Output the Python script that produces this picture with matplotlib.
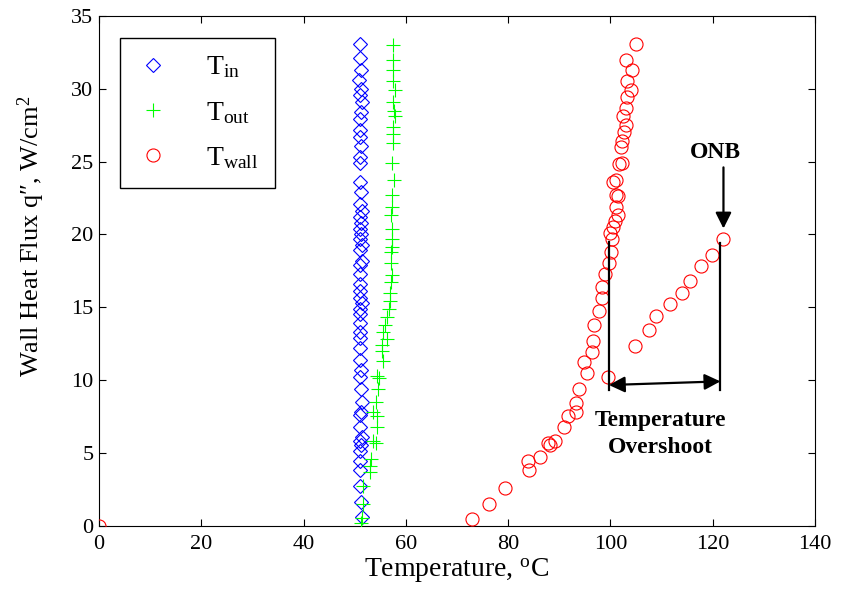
import matplotlib
matplotlib.use("Agg")
import matplotlib.pyplot as plt


# --------------------------------------------------------
# Data
# --------------------------------------------------------

# inlet temperature, deg C / heat flux, W/cm^2
t_in = [
    51.0, 51.0, 51.2, 50.8, 51.2, 51.0, 51.4, 51.2, 51.0, 51.0,
    51.0, 51.2, 51.0, 51.0, 51.0, 51.2, 51.0, 51.4, 51.0, 51.2,
    51.0, 51.2, 51.0, 51.4, 51.0, 51.4, 51.0, 51.0, 51.0, 51.0,
    51.0, 51.4, 51.0, 51.0, 51.0, 51.0, 51.0, 51.0, 51.0, 51.2,
    51.0, 51.2, 51.4, 51.2, 51.0, 51.0, 51.4, 51.0, 51.2, 51.0,
    51.0, 51.0, 51.0, 51.2, 51.4,
]
q_in = [
    33.1, 32.1, 31.3, 30.6, 30.0, 29.6, 29.1, 28.4, 27.9, 27.2,
    26.7, 26.1, 25.3, 24.9, 23.6, 22.9, 22.1, 21.6, 21.2, 20.8,
    20.4, 20.0, 19.7, 19.3, 18.9, 18.2, 17.9, 17.3, 16.6, 16.1,
    15.6, 15.3, 14.9, 14.5, 13.9, 13.3, 12.9, 12.2, 11.4, 10.7,
    10.2, 9.4, 8.5, 7.8, 7.6, 6.8, 6.1, 5.8, 5.5, 5.1,
    4.4, 3.8, 2.7, 1.6, 0.6,
]

# outlet temperature
t_out = [
    57.4, 57.4, 57.4, 57.4, 57.9, 57.5, 57.7, 57.9, 57.4, 57.4,
    57.4, 57.2, 57.7, 57.2, 57.2, 57.1, 57.2, 57.2, 57.3, 57.1,
    57.1, 57.2, 57.0, 56.9, 56.9, 56.8, 56.3, 55.9, 55.6, 56.4,
    55.3, 55.3, 55.6, 54.4, 54.8, 54.6, 54.2, 53.6, 54.4, 54.4,
    53.6, 54.2, 53.1, 53.0, 53.0, 51.7, 51.6, 51.4, 51.2,
]
q_out = [
    33.0, 32.0, 31.3, 30.5, 29.9, 29.1, 28.5, 28.1, 27.4, 26.9,
    26.3, 24.9, 23.7, 22.7, 21.9, 21.3, 20.4, 19.7, 19.1, 18.8,
    18.0, 17.2, 16.7, 16.0, 15.4, 14.9, 14.3, 13.8, 13.3, 12.8,
    12.4, 12.0, 11.3, 10.3, 10.1, 9.4, 8.5, 7.8, 7.5, 6.8,
    5.8, 5.7, 4.6, 4.1, 3.7, 2.7, 1.5, 0.5, 0.15,
]

# wall temperature
t_wall = [
    0.0, 73.0, 76.3, 79.4, 84.1, 83.9, 86.2, 88.1, 87.7, 89.1,
    90.9, 91.7, 93.2, 93.2, 93.8, 99.5, 95.4, 94.8, 96.3, 104.9,
    96.5, 107.5, 96.8, 109.0, 97.7, 111.6, 98.3, 113.9, 98.3, 115.5,
    98.9, 117.8, 99.8, 119.8, 100.2, 100.4, 122.1, 100.0, 100.6, 100.8,
    101.5, 101.1, 101.4, 101.0, 100.6, 101.0, 101.6, 102.2, 102.0, 102.2,
    102.6, 103.0, 102.4, 103.0, 103.2, 104.0, 103.2, 104.2, 103.0, 105.0,
]
q_wall = [
    0.0, 0.45, 1.5, 2.6, 3.8, 4.4, 4.7, 5.5, 5.7, 5.8,
    6.8, 7.5, 7.8, 8.4, 9.4, 10.2, 10.5, 11.2, 11.9, 12.3,
    12.7, 13.4, 13.8, 14.4, 14.7, 15.2, 15.6, 16.0, 16.4, 16.8,
    17.3, 17.8, 18.0, 18.6, 18.8, 19.7, 19.7, 20.1, 20.5, 20.9,
    21.3, 21.9, 22.6, 22.7, 23.6, 23.7, 24.8, 24.9, 26.0, 26.4,
    27.0, 27.5, 28.1, 28.7, 29.4, 29.9, 30.5, 31.3, 32.0, 33.1,
]

# overshoot annotation
overshoot_low = 99.7
overshoot_high = 121.5
onb_point = (122.1, 19.7)


# --------------------------------------------------------
# Style
# --------------------------------------------------------

plt.rcParams["font.family"] = ["Liberation Serif", "DejaVu Serif"]
plt.rcParams["mathtext.fontset"] = "custom"
plt.rcParams["mathtext.rm"] = "Liberation Serif"
plt.rcParams["mathtext.it"] = "Liberation Serif:italic"
plt.rcParams["mathtext.bf"] = "Liberation Serif:bold"


# --------------------------------------------------------
# Figure
# --------------------------------------------------------

fig = plt.figure(figsize=(8.43, 6.05), dpi=100)

ax = fig.add_axes([0.1174, 0.1314, 0.8494, 0.8422])

ax.plot(
    t_in,
    q_in,
    linestyle="none",
    marker="D",
    markersize=7.4,
    markerfacecolor="none",
    markeredgecolor="#0000ff",
    markeredgewidth=0.8,
    label=r"T$_{\rm in}$",
    zorder=3,
)

ax.plot(
    t_out,
    q_out,
    linestyle="none",
    marker="+",
    markersize=9.5,
    markeredgecolor="#00ff00",
    markeredgewidth=0.8,
    label=r"T$_{\rm out}$",
    zorder=3,
)

ax.plot(
    t_wall,
    q_wall,
    linestyle="none",
    marker="o",
    markersize=9.4,
    markerfacecolor="none",
    markeredgecolor="#ff0000",
    markeredgewidth=0.8,
    label=r"T$_{\rm wall}$",
    zorder=3,
)


# --------------------------------------------------------
# Annotations
# --------------------------------------------------------

ax.plot(
    [overshoot_low, overshoot_low],
    [9.3, 19.5],
    color="black",
    linewidth=1.6,
    zorder=4,
)

ax.plot(
    [overshoot_high, overshoot_high],
    [9.3, 19.4],
    color="black",
    linewidth=1.6,
    zorder=4,
)

ax.annotate(
    "",
    xy=(overshoot_high, 9.9),
    xytext=(overshoot_low, 9.65),
    arrowprops=dict(
        arrowstyle="<|-|>",
        color="black",
        linewidth=1.6,
        mutation_scale=24,
        shrinkA=0,
        shrinkB=0,
    ),
    zorder=4,
)

ax.text(
    109.8,
    6.3,
    "Temperature\nOvershoot",
    ha="center",
    va="center",
    multialignment="center",
    fontsize=17,
    fontweight="bold",
    linespacing=1.4,
)

ax.annotate(
    "",
    xy=(onb_point[0], 20.4),
    xytext=(onb_point[0], 24.6),
    arrowprops=dict(
        arrowstyle="-|>",
        color="black",
        linewidth=1.6,
        mutation_scale=24,
        shrinkA=0,
        shrinkB=0,
    ),
    zorder=4,
)

ax.text(
    120.6,
    25.6,
    "ONB",
    ha="center",
    va="center",
    fontsize=17,
    fontweight="bold",
)


# --------------------------------------------------------
# Axes
# --------------------------------------------------------

ax.set_xlim(0, 140)
ax.set_ylim(0, 35)

ax.set_xticks(range(0, 141, 20))
ax.set_yticks(range(0, 36, 5))

ax.tick_params(
    direction="in",
    top=True,
    right=True,
    length=5,
    width=0.8,
    labelsize=16,
)
ax.tick_params(axis="x", pad=7)
ax.tick_params(axis="y", pad=4)

for spine in ax.spines.values():
    spine.set_linewidth(0.8)

ax.set_xlabel(r"Temperature, $^{\rm o}$C", fontsize=20, labelpad=2)
ax.set_ylabel("Wall Heat Flux q\u2033, W/cm$^{\\rm 2}$", fontsize=19)
ax.yaxis.set_label_coords(-0.073, 0.568)

leg = ax.legend(
    loc="upper left",
    bbox_to_anchor=(0.029, 0.957),
    borderaxespad=0,
    fontsize=20,
    fancybox=False,
    edgecolor="black",
    framealpha=1,
    handlelength=1.2,
    handletextpad=1.3,
    labelspacing=0.7,
    borderpad=0.6,
)
leg.get_frame().set_linewidth(1.0)

fig.savefig("out.png", dpi=100)
